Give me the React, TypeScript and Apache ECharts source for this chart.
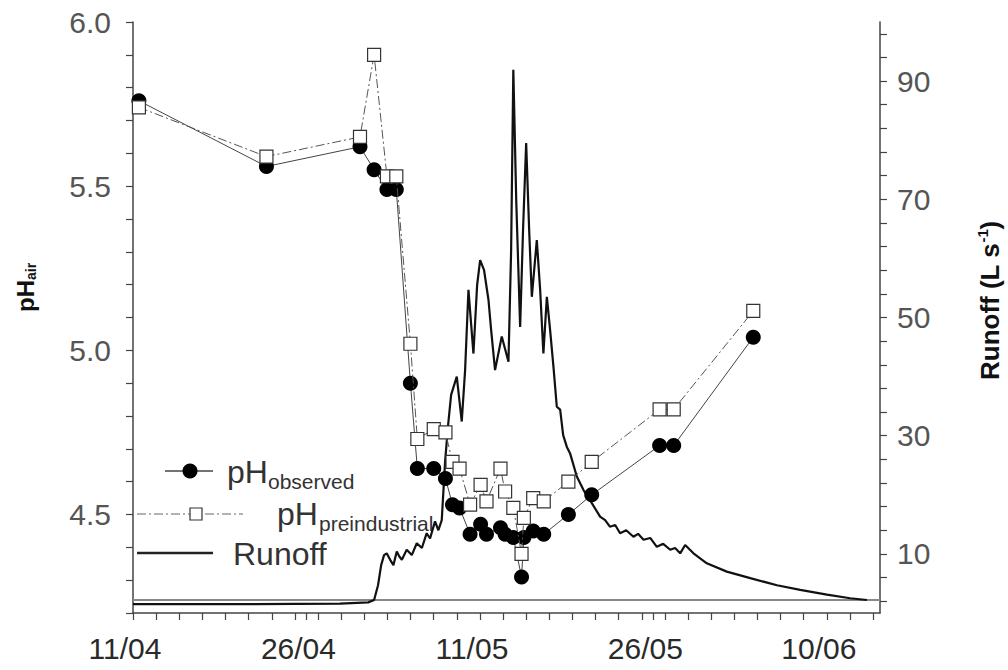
import React, { useEffect, useRef } from "react";
import * as echarts from "echarts";

// ---- axis ticks / labels ----
const dayLabelValues = [0, 15, 30, 45, 60];
const dayLabels = ["11/04", "26/04", "11/05", "26/05", "10/06"];
const dayTickValues = [0, 2, 4, 6, 8, 10, 12, 14, 15, 16, 18, 20, 22, 24, 26, 28, 30, 32, 34, 36, 38, 40, 42, 44, 45, 46, 48, 50, 52, 54, 56, 58, 60, 62, 64];
const phLabelValues = [4.5, 5.0, 5.5, 6.0];
const phTickValues = [4.2, 4.3, 4.4, 4.5, 4.6, 4.7, 4.8, 4.9, 5.0, 5.1, 5.2, 5.3, 5.4, 5.5, 5.6, 5.7, 5.8, 5.9, 6.0];
const runoffLabelValues = [10, 30, 50, 70, 90];
const runoffTickValues = [2, 6, 10, 14, 18, 22, 26, 30, 34, 38, 42, 46, 50, 54, 58, 62, 66, 70, 74, 78, 82, 86, 90, 94, 98];

// ---- pH samples (days after 11/04) ----
const sampleDays = [0.51, 11.54, 19.63, 20.85, 21.96, 22.77, 23.99, 24.59, 26.01, 27.02, 27.63, 28.24, 29.15, 30.06, 30.57, 31.78, 32.18, 32.89, 33.6, 33.8, 34.61, 35.52, 37.65, 39.67, 45.54, 46.76, 53.64];
const phObserved = [5.76, 5.56, 5.62, 5.55, 5.49, 5.49, 4.90, 4.64, 4.64, 4.61, 4.53, 4.52, 4.44, 4.47, 4.44, 4.46, 4.44, 4.43, 4.31, 4.43, 4.45, 4.44, 4.50, 4.56, 4.71, 4.71, 5.04];
const phPreindustrial = [5.74, 5.59, 5.65, 5.90, 5.53, 5.53, 5.02, 4.73, 4.76, 4.75, 4.66, 4.64, 4.53, 4.59, 4.54, 4.64, 4.57, 4.52, 4.38, 4.49, 4.55, 4.54, 4.60, 4.66, 4.82, 4.82, 5.12];

// ---- runoff (L s-1) ----
const runoffDays = [0, 10.12, 17.91, 20.34, 20.85, 21.19, 21.46, 21.71, 21.94, 22.24, 22.52, 22.81, 23.02, 23.25, 23.67, 24.11, 24.54, 24.98, 25.4, 25.69, 26.12, 26.41, 26.7, 26.99, 27.25, 27.51, 28.0, 28.43, 28.72, 29.01, 29.44, 29.76, 30.02, 30.36, 30.74, 30.97, 31.31, 31.89, 32.47, 32.7, 32.89, 33.14, 33.48, 33.73, 34.0, 34.26, 34.49, 34.92, 35.21, 35.49, 35.79, 36.07, 36.36, 36.65, 36.94, 37.2, 37.52, 37.8, 38.38, 38.96, 39.68, 40.39, 40.83, 41.24, 41.7, 42.12, 42.65, 43.28, 43.68, 44.15, 44.73, 45.3, 45.85, 46.46, 46.88, 47.32, 47.75, 48.47, 49.62, 51.35, 53.38, 55.69, 57.7, 60.01, 62.02, 63.47];
const runoffValues = [1.5, 1.5, 1.6, 1.8, 2.2, 4.7, 8.1, 9.8, 10.1, 9.0, 8.1, 10.4, 9.6, 9.0, 10.7, 9.8, 11.8, 11.0, 13.5, 12.6, 15.5, 14.0, 15.7, 25.6, 31.8, 36.9, 40.0, 32.4, 41.1, 54.7, 43.9, 55.5, 59.7, 58.0, 53.0, 47.9, 41.1, 46.8, 42.5, 61.4, 91.9, 69.9, 48.4, 64.8, 79.5, 64.8, 53.5, 63.1, 54.7, 43.9, 53.5, 47.9, 41.7, 34.9, 34.4, 30.1, 28.1, 27.0, 23.1, 20.8, 18.6, 16.3, 15.7, 14.6, 14.9, 13.5, 14.0, 12.9, 13.4, 12.4, 12.7, 11.2, 11.7, 10.7, 11.0, 10.1, 11.5, 10.1, 8.4, 7.0, 5.9, 4.7, 3.9, 3.1, 2.5, 2.2];

// flat reference line of runoff
const baselineDays = [0, 64.6];
const baselineValues = [2.2, 2.2];

const FONT = "'Liberation Sans', Arial, Helvetica, sans-serif";

export default function App() {
  const ref = useRef<HTMLDivElement>(null);
  useEffect(() => {
    if (!ref.current) return;
    const chart = echarts.init(ref.current, undefined, { renderer: "svg" });
    const axisCol = "#444";
    const option: any = {
      animation: false,
      backgroundColor: "#fff",
      textStyle: { fontFamily: FONT },
      grid: { left: 133, right: 128, top: 22, bottom: 57, containLabel: false },
      xAxis: {
        type: "value",
        min: 0,
        max: 64.6,
        axisLine: { show: true, lineStyle: { color: axisCol, width: 1.5 } },
        axisTick: { show: true, customValues: dayTickValues, length: 7, lineStyle: { color: axisCol, width: 1.2 } },
        axisLabel: {
          customValues: dayLabelValues,
          formatter: (v: number) => dayLabels[dayLabelValues.indexOf(v)] ?? "",
          fontSize: 30,
          color: "#2a2a2a",
          margin: 20,
          padding: [0, 16, 0, 0],
          fontFamily: FONT,
        },
        splitLine: { show: false },
      },
      yAxis: [
        {
          type: "value",
          min: 4.2,
          max: 6.0,
          position: "left",
          axisLine: { show: true, lineStyle: { color: axisCol, width: 1.5 } },
          axisTick: { show: true, customValues: phTickValues, length: 7, lineStyle: { color: axisCol, width: 1.2 } },
          axisLabel: {
            customValues: phLabelValues,
            formatter: (v: number) => v.toFixed(1),
            fontSize: 30,
            color: "#555",
            margin: 22,
            fontFamily: FONT,
          },
          splitLine: { show: false },
        },
        {
          type: "value",
          min: 0,
          max: 100,
          position: "right",
          axisLine: { show: true, lineStyle: { color: axisCol, width: 1.5 } },
          axisTick: { show: true, customValues: runoffTickValues, length: 7, lineStyle: { color: axisCol, width: 1.2 } },
          axisLabel: {
            customValues: runoffLabelValues,
            fontSize: 30,
            color: "#555",
            margin: 17,
            fontFamily: FONT,
          },
          splitLine: { show: false },
        },
      ],
      series: [
        {
          name: "baseline",
          type: "line",
          yAxisIndex: 1,
          data: baselineDays.map((d, i) => [d, baselineValues[i]]),
          symbol: "none",
          lineStyle: { color: "#888", width: 2 },
          z: 1,
        },
        {
          name: "Runoff",
          type: "line",
          yAxisIndex: 1,
          data: runoffDays.map((d, i) => [d, runoffValues[i]]),
          symbol: "none",
          lineStyle: { color: "#111", width: 2.2 },
          z: 2,
        },
        {
          name: "pH observed",
          type: "line",
          yAxisIndex: 0,
          data: sampleDays.map((d, i) => [d, phObserved[i]]),
          symbol: "circle",
          symbolSize: 15,
          itemStyle: { color: "#000" },
          lineStyle: { color: "#444", width: 1 },
          z: 3,
        },
        {
          name: "pH preindustrial",
          type: "line",
          yAxisIndex: 0,
          data: sampleDays.map((d, i) => [d, phPreindustrial[i]]),
          symbol: "rect",
          symbolSize: 13,
          itemStyle: { color: "#fff", borderColor: "#333", borderWidth: 1.2 },
          lineStyle: { color: "#555", width: 1, type: [9, 3, 2, 3] },
          z: 4,
        },
      ],
      graphic: [
        // left axis title
        {
          type: "group",
          x: 25,
          y: 287,
          rotation: Math.PI / 2,
          children: [
            { type: "text", x: -25, y: 0, style: { text: "pH", fontSize: 24, fontWeight: "bold", fontFamily: FONT, fill: "#111", align: "left", verticalAlign: "middle" } },
            { type: "text", x: 7, y: 6, style: { text: "air", fontSize: 14, fontWeight: "bold", fontFamily: FONT, fill: "#111", align: "left", verticalAlign: "middle" } },
          ],
        },
        // right axis title
        {
          type: "group",
          x: 990,
          y: 300,
          rotation: Math.PI / 2,
          children: [
            { type: "text", x: -80, y: 0, style: { text: "Runoff (L s", fontSize: 26, fontWeight: "bold", fontFamily: FONT, fill: "#111", align: "left", verticalAlign: "middle" } },
            { type: "text", x: 57.5, y: -8, style: { text: "-1", fontSize: 15, fontWeight: "bold", fontFamily: FONT, fill: "#111", align: "left", verticalAlign: "middle" } },
            { type: "text", x: 70.5, y: 0, style: { text: ")", fontSize: 26, fontWeight: "bold", fontFamily: FONT, fill: "#111", align: "left", verticalAlign: "middle" } },
          ],
        },
        // legend: observed
        { type: "line", shape: { x1: 165, y1: 471, x2: 213, y2: 471 }, style: { stroke: "#444", lineWidth: 1.5 } },
        { type: "circle", shape: { cx: 190, cy: 471, r: 7.5 }, style: { fill: "#000" } },
        { type: "text", x: 227, y: 472, style: { text: "pH", fontSize: 32, fontFamily: FONT, fill: "#333", align: "left", verticalAlign: "middle" } },
        { type: "text", x: 268, y: 481, style: { text: "observed", fontSize: 21, fontFamily: FONT, fill: "#333", align: "left", verticalAlign: "middle" } },
        // legend: preindustrial
        { type: "line", shape: { x1: 137, y1: 514, x2: 243, y2: 514 }, style: { stroke: "#666", lineWidth: 1, lineDash: [9, 3, 2, 3] } },
        { type: "rect", shape: { x: 190, y: 508, width: 12, height: 12 }, style: { fill: "#fff", stroke: "#333", lineWidth: 1.2 } },
        { type: "text", x: 277, y: 514, style: { text: "pH", fontSize: 32, fontFamily: FONT, fill: "#333", align: "left", verticalAlign: "middle" } },
        { type: "text", x: 319, y: 523, style: { text: "preindustrial", fontSize: 21, fontFamily: FONT, fill: "#333", align: "left", verticalAlign: "middle" } },
        // legend: runoff
        { type: "line", shape: { x1: 137, y1: 553, x2: 213, y2: 553 }, style: { stroke: "#222", lineWidth: 2.5 } },
        { type: "text", x: 233, y: 554, style: { text: "Runoff", fontSize: 32, fontFamily: FONT, fill: "#333", align: "left", verticalAlign: "middle" } },
      ],
    };
    chart.setOption(option);
    return () => chart.dispose();
  }, []);
  return (
    <div
      ref={ref}
      style={{ position: "absolute", left: 0, top: 0, width: 1008, height: 670, background: "#fff" }}
    />
  );
}
